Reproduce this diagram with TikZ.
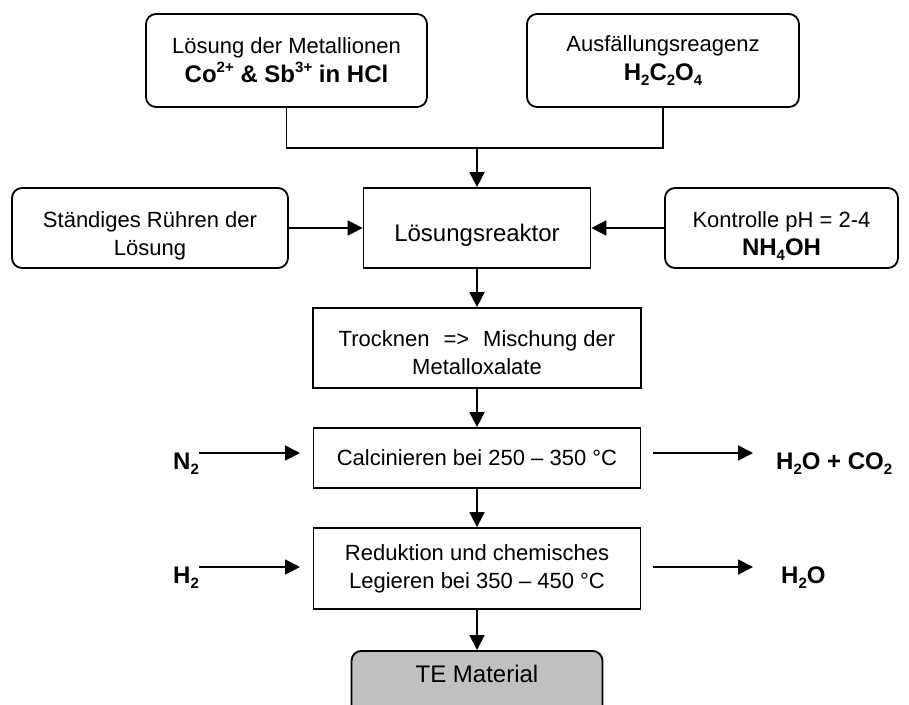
\documentclass[tikz,border=0pt]{standalone}
\usepackage{fontspec}
\setmainfont{Liberation Sans}
\usetikzlibrary{arrows.meta}
\definecolor{tegray}{RGB}{192,192,192}
\newcommand\chsub[1]{\raisebox{-0.22em}{\fontsize{15}{15}\selectfont #1}}
\newcommand\chsup[1]{\raisebox{0.42em}{\fontsize{15}{15}\selectfont #1}}
\begin{document}
\begin{tikzpicture}[x=1pt,y=-1pt,
  every node/.style={inner sep=0pt},
  box/.style={draw, line width=1.8pt, align=center, font=\fontsize{22}{28}\selectfont},
  rbox/.style={box, rounded corners=10pt},
  tebox/.style={draw, line width=1.8pt, rounded corners=10pt, fill=tegray, font=\fontsize{24}{28}\selectfont},
  con/.style={line width=1.8pt},
  arr/.style={con, -{Triangle[length=15pt,width=15pt]}},
  lbl/.style={font=\fontsize{24}{28}\selectfont\bfseries}]
\useasboundingbox (0,0) rectangle (909,704);
\clip (0,0) rectangle (909,704);

\node[rbox, minimum width=281pt, minimum height=93pt, font=\fontsize{22}{29}\selectfont] (b1) at (286.5,60.5)
  {Lösung der Metallionen\\{\fontsize{24}{29}\selectfont\bfseries Co\chsup{2+} \& Sb\chsup{3+} in HCl}};
\node[rbox, minimum width=272pt, minimum height=93pt, font=\fontsize{22}{29}\selectfont] (b2) at (663,60.5)
  {Ausfällungsreagenz\\{\fontsize{24}{29}\selectfont\bfseries H\chsub{2}C\chsub{2}O\chsub{4}}};

\node[rbox, minimum width=276pt, minimum height=80pt] (ls) at (150,228) {\rule{0pt}{32pt}Ständiges Rühren der\\Lösung};
\node[box, minimum width=227pt, minimum height=80pt, font=\fontsize{24}{28}\selectfont] (re) at (477,228) {\rule{0pt}{32pt}Lösungsreaktor};
\node[rbox, minimum width=233pt, minimum height=80pt] (rs) at (781.5,228)
  {\rule{0pt}{32pt}Kontrolle pH = 2-4\\{\fontsize{24}{28}\selectfont\bfseries NH\chsub{4}OH}};

\node[box, minimum width=328pt, minimum height=80pt] (tr) at (477,348)
  {\rule{0pt}{26pt}Trocknen\hspace{14pt}=>\hspace{14pt}Mischung der\\Metalloxalate};
\node[box, minimum width=327pt, minimum height=60pt] (ca) at (477,458) {Calcinieren bei 250 – 350 °C};
\node[box, minimum width=327pt, minimum height=81pt] (rd) at (477,568.5)
  {Reduktion und chemisches\\Legieren bei 350 – 450 °C};
\node[tebox, minimum width=251pt, minimum height=70pt, anchor=north, text height=17.6pt, text depth=23.6pt] (te) at (477,650) {TE Material};

\coordinate (j) at (477,148);
\draw[con] (b1.south) -- (b1.south |- j) -- (b2.south |- j) -- (b2.south);
\draw[arr] (j) -- (re.north);
\draw[arr] (ls.east) -- (re.west);
\draw[arr] (rs.west) -- (re.east);
\draw[arr] (re.south) -- (tr.north);
\draw[arr] (tr.south) -- (ca.north);
\draw[arr] (ca.south) -- (rd.north);
\draw[arr] (rd.south) -- (te.north);

\coordinate (n2a) at (199,453);
\coordinate (n2b) at (300,453);
\coordinate (h2a) at (199,567);
\coordinate (h2b) at (300,567);
\coordinate (o1a) at (653,453);
\coordinate (o1b) at (753,453);
\coordinate (o2a) at (653,567);
\coordinate (o2b) at (753,567);
\draw[arr] (n2a) -- (n2b);
\draw[arr] (h2a) -- (h2b);
\draw[arr] (o1a) -- (o1b);
\draw[arr] (o2a) -- (o2b);

\node[lbl, anchor=base west] (n2) at (173,469) {N\chsub{2}};
\node[lbl, anchor=base west] (h2) at (173,583) {H\chsub{2}};
\node[lbl, anchor=base west] (p1) at (776,469) {H\chsub{2}O + CO\chsub{2}};
\node[lbl, anchor=base west] (p2) at (781,583) {H\chsub{2}O};
\end{tikzpicture}
\end{document}
